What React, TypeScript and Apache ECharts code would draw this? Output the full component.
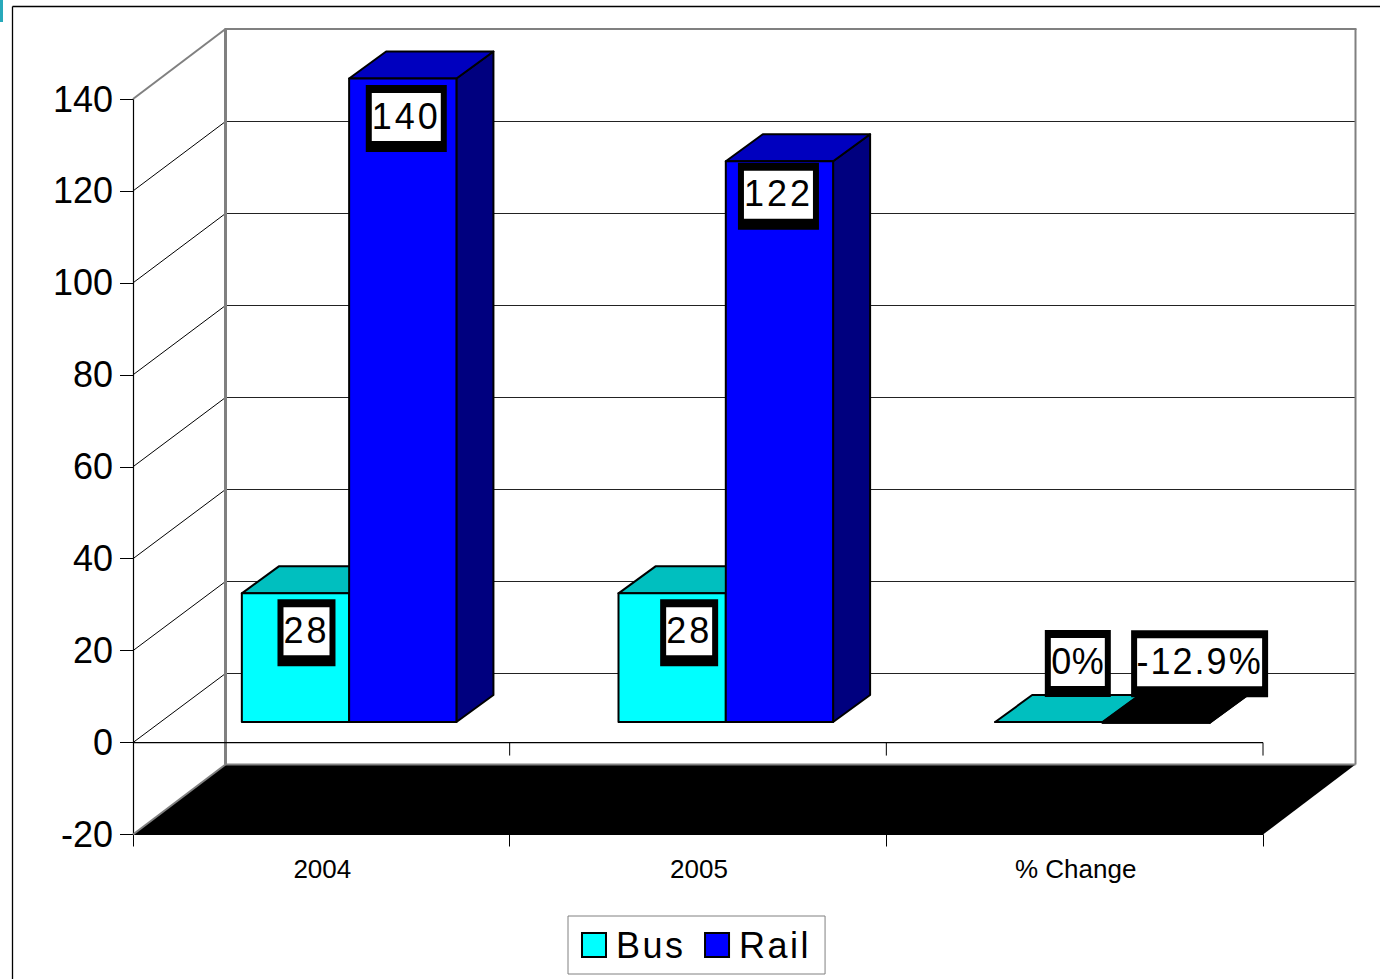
import { useEffect, useRef } from "react";
import * as echarts from "echarts";

const categories = ["2004", "2005", "% Change"];
const busValues = [28, 28, 0];
const railValues = [140, 122, -0.129];
const busLabels = ["28", "28", "0%"];
const railLabels = ["140", "122", "-12.9%"];
const yTicks = [-20, 0, 20, 40, 60, 80, 100, 120, 140];

// Box width of each value label, and where it sits relative to its bar's front face.
const busLabelBoxes = [
  { w: 46, dx: 11, dy: 6 },
  { w: 46, dx: 17, dy: 6 },
  { w: 54, dx: 29, dy: -92 },
];
const railLabelBoxes = [
  { w: 69, dx: 3.5, dy: 6.5 },
  { w: 69, dx: -1, dy: 1.5 },
  { w: 125, dx: 43.5, dy: -92.5 },
];
const letterSpacing: Record<string, string> = {
  "28": "3px",
  "140": "3px",
  "122": "3px",
  "0%": "0.5px",
  "-12.9%": "2px",
  Bus: "2.5px",
  Rail: "2.5px",
};

const FONT = '"Liberation Sans", Arial, sans-serif';
const GREY = "#808080";
const WALL_DX = 92.5;
const WALL_DY = -70;
const BAR_SHIFT_X = 27.8;
const BAR_SHIFT_Y = -20.5;
const BAR_DX = 37;
const BAR_DY = -27;
const BAR_WIDTH = 107.3;

function renderWalls(_params: any, api: any) {
  const [x0, yTop] = api.coord([0, 140]);
  const halfBand = api.size([1, 0])[0] / 2;
  const left = x0 - halfBand;
  const right = left + halfBand * 2 * categories.length;
  const yFloor = api.coord([0, -20])[1];
  const yZero = api.coord([0, 0])[1];
  const backL = left + WALL_DX;
  const backR = right + WALL_DX;
  const line = (x1: number, y1: number, x2: number, y2: number, stroke: string, lineWidth: number) => ({
    type: "line",
    shape: { x1, y1, x2, y2 },
    style: { stroke, lineWidth },
  });

  const children: any[] = [];
  // Gridlines run along the side wall and the back wall.
  for (const t of yTicks) {
    if (t === 140 || t === -20) continue;
    const y = api.coord([0, t])[1];
    const yBack = Math.round(y + WALL_DY) + 0.5;
    children.push(line(left, y, backL, yBack, "#000", 1));
    children.push(line(backL, yBack, backR, yBack, "#222", 1));
  }
  // Floor slab.
  children.push({
    type: "polygon",
    shape: {
      points: [
        [left, yFloor],
        [right, yFloor],
        [backR, yFloor + WALL_DY],
        [backL, yFloor + WALL_DY],
      ],
    },
    style: { fill: "#000" },
  });
  // Wall outlines.
  children.push(line(left, yTop, backL, yTop + WALL_DY, GREY, 2));
  children.push(line(left, yFloor, backL, yFloor + WALL_DY, GREY, 2));
  children.push(line(backL, yTop + WALL_DY, backL, yFloor + WALL_DY, GREY, 3));
  children.push(line(backR, yTop + WALL_DY, backR, yFloor + WALL_DY, GREY, 2));
  children.push(line(backL - 1, yTop + WALL_DY, backR + 1, yTop + WALL_DY, GREY, 2));
  children.push(line(backL, yFloor + WALL_DY, backR, yFloor + WALL_DY, GREY, 2));
  // Zero baseline with its category ticks.
  children.push(line(left, yZero, right, yZero, "#000", 1.2));
  for (let i = 1; i <= categories.length; i++) {
    const x = left + i * halfBand * 2;
    children.push(line(x, yZero, x, yZero + 13, "#000", 1));
  }
  return { type: "group", children };
}

function makeBarRenderer(
  side: "left" | "right",
  labels: string[],
  boxes: { w: number; dx: number; dy: number }[],
  front: string,
  top: string,
  flank: string,
) {
  return (_params: any, api: any) => {
    const idx = api.value(0);
    const val = api.value(1);
    const base = api.coord([idx, 0]);
    const head = api.coord([idx, val]);
    const centre = base[0] + BAR_SHIFT_X;
    const x1 = side === "left" ? centre - BAR_WIDTH : centre;
    const x2 = x1 + BAR_WIDTH;
    const yBase = base[1] + BAR_SHIFT_Y;
    const yHead = head[1] + BAR_SHIFT_Y;
    const edge = { stroke: "#000", lineWidth: 2, lineJoin: "round" };
    const box = boxes[idx];
    const midX = (x1 + x2) / 2 + box.dx;
    const innerW = box.w;
    const boxTop = yHead + box.dy;
    const children: any[] = [
      {
        type: "polygon",
        shape: { points: [[x2, yBase], [x2 + BAR_DX, yBase + BAR_DY], [x2 + BAR_DX, yHead + BAR_DY], [x2, yHead]] },
        style: { fill: flank, ...edge },
      },
      {
        type: "polygon",
        shape: { points: [[x1, yHead], [x2, yHead], [x2 + BAR_DX, yHead + BAR_DY], [x1 + BAR_DX, yHead + BAR_DY]] },
        style: { fill: val < 0 ? "#000" : top, ...edge },
      },
      {
        type: "polygon",
        shape: { points: [[x1, yBase], [x2, yBase], [x2, yHead], [x1, yHead]] },
        style: { fill: front, ...edge },
      },
      {
        type: "rect",
        shape: { x: midX - innerW / 2 - 6, y: boxTop, width: innerW + 12, height: 67 },
        style: { fill: "#000" },
      },
      {
        type: "rect",
        shape: { x: midX - innerW / 2, y: boxTop + 8, width: innerW, height: 48 },
        style: { fill: "#fff" },
      },
      {
        type: "text",
        x: midX,
        y: boxTop + 31,
        style: {
          text: labels[idx],
          font: `36px ${FONT}`,
          fill: "#000",
          textAlign: "center",
          textVerticalAlign: "middle",
        },
      },
    ];
    return { type: "group", children };
  };
}

export default function App() {
  const ref = useRef<HTMLDivElement>(null);

  useEffect(() => {
    const chart = echarts.init(ref.current!, undefined, { renderer: "svg" });
    chart.setOption({
      animation: false,
      backgroundColor: "#fff",
      grid: { left: 133, top: 99, width: 1130, height: 735.5 },
      xAxis: {
        type: "category",
        data: categories,
        axisLine: { onZero: false, lineStyle: { color: "#000", width: 1 } },
        axisTick: { show: true, length: 12, lineStyle: { color: "#000", width: 1 } },
        axisLabel: { color: "#000", fontFamily: FONT, fontSize: 26, margin: 21, padding: [0, 0, 0, 2] },
      },
      yAxis: {
        type: "value",
        min: -20,
        max: 140,
        interval: 20,
        splitLine: { show: false },
        axisLine: { show: true, lineStyle: { color: "#000", width: 1.2 } },
        axisTick: { show: true, length: 13, lineStyle: { color: "#000", width: 1 } },
        axisLabel: { color: "#000", fontFamily: FONT, fontSize: 36, margin: 20, padding: [3, 0, 0, 0] },
      },
      legend: {
        data: ["Bus", "Rail"],
        left: 568,
        top: 916,
        orient: "horizontal",
        icon: "rect",
        padding: [11, 24, 11, 13],
        itemWidth: 24,
        itemHeight: 24,
        itemGap: 26,
        borderColor: GREY,
        borderWidth: 1,
        backgroundColor: "#fff",
        textStyle: { color: "#000", fontFamily: FONT, fontSize: 36, padding: [0, 0, 0, 5] },
      },
      graphic: [
        { type: "rect", shape: { x: 0, y: 0, width: 3, height: 22 }, style: { fill: "#27A9BA" } },
        { type: "line", shape: { x1: 12.5, y1: 6.5, x2: 1380, y2: 6.5 }, style: { stroke: "#000", lineWidth: 1.3 } },
        { type: "line", shape: { x1: 12.5, y1: 6.5, x2: 12.5, y2: 979 }, style: { stroke: "#000", lineWidth: 1.3 } },
      ],
      series: [
        {
          name: "walls",
          type: "custom",
          renderItem: renderWalls,
          data: [[0, 0]],
          silent: true,
          z: 1,
        },
        {
          name: "Bus",
          type: "custom",
          renderItem: makeBarRenderer("left", busLabels, busLabelBoxes, "#00FFFF", "#00BFBF", "#007F7F"),
          data: busValues.map((v, i) => [i, v]),
          itemStyle: { color: "#00FFFF", borderColor: "#000", borderWidth: 2 },
          z: 2,
        },
        {
          name: "Rail",
          type: "custom",
          renderItem: makeBarRenderer("right", railLabels, railLabelBoxes, "#0000FF", "#0000BF", "#00007F"),
          data: railValues.map((v, i) => [i, v]),
          itemStyle: { color: "#0000FF", borderColor: "#000", borderWidth: 2 },
          z: 3,
        },
      ],
    });
    // Value labels and legend entries are tracked out a little wider than the font's default;
    // axis numbers, anchored at their right end, keep normal spacing.
    ref.current!.querySelectorAll("text").forEach((el) => {
      const spacing = letterSpacing[el.textContent ?? ""];
      if (spacing && el.getAttribute("text-anchor") !== "end") {
        (el as SVGTextElement).style.letterSpacing = spacing;
      }
    });
    return () => chart.dispose();
  }, []);

  return <div ref={ref} style={{ position: "absolute", left: 0, top: 0, width: 1380, height: 979 }} />;
}
